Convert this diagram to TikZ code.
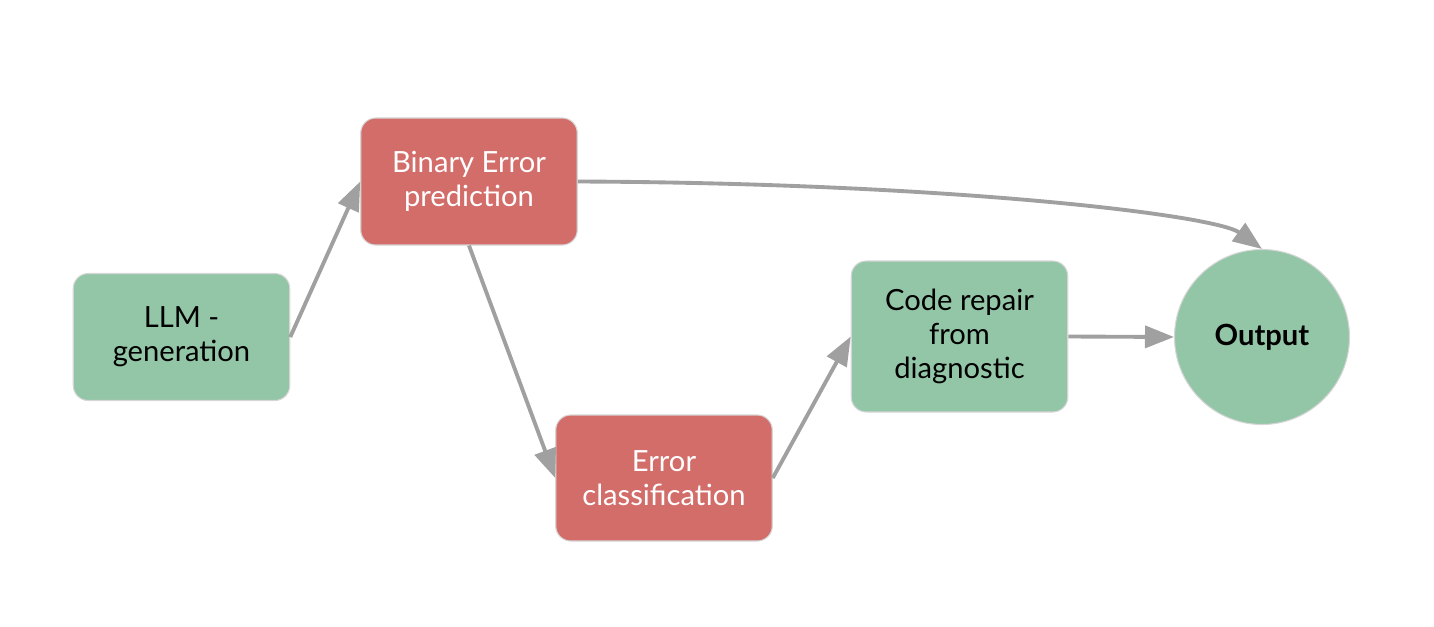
\documentclass[tikz,border=0pt]{standalone}
\usepackage{fontspec}
\setmainfont{Lato}
\usetikzlibrary{positioning, arrows.meta, calc}

\definecolor{stageGreen}{HTML}{93C6A7}
\definecolor{stageRed}{HTML}{D36D6A}
\definecolor{edgeGray}{HTML}{A0A0A0}
\definecolor{rimGray}{HTML}{D6D6D6}

\begin{document}
\begin{tikzpicture}[
  font=\fontsize{16.6}{19.2}\selectfont,
  >={Triangle[length=0.58cm, width=0.44cm]}
]
% -------------------- Styles --------------------
\tikzset{
  stage/.style={
    draw=rimGray, rounded corners=0.3cm, line width=0.6pt,
    align=center, inner sep=4pt,
    minimum width=4.33cm, minimum height=2.54cm
  },
  okStage/.style={
    stage, fill=stageGreen, text=black
  },
  errStage/.style={
    stage, fill=stageRed, text=white
  },
  sink/.style={
    circle, draw=rimGray, line width=0.6pt, fill=stageGreen,
    minimum size=3.5cm, inner sep=0pt, font=\fontsize{16.6}{19.2}\selectfont\bfseries
  },
  arrow/.style={->, draw=edgeGray, line width=2.2pt}
}

% frame of the picture
\useasboundingbox (0,0) rectangle (28.68,-12.52);

% -------------------- Stages --------------------
\node[okStage] (llm) at (3.63,-6.74) {LLM -\\generation};

\node[errStage] (binary) at ($(llm)+(5.75,3.11)$) {Binary Error\\prediction};

\node[errStage, minimum height=2.52cm] (errcls) at ($(binary)+(3.90,-5.93)$) {Error\\classification};

\node[okStage, minimum height=3.02cm] (repair) at ($(llm)+(15.56,0.01)$) {Code repair\\from\\diagnostic};

\node[sink] (out) at ($(llm)+(21.61,0)$) {Output};

% -------------------- Connectors --------------------
\draw[arrow] (llm.east) -- (binary.west);
\draw[arrow] (binary.south) -- (errcls.west);
\draw[arrow] (errcls.east) -- (repair.west);
\draw[arrow] (repair.east) -- (out.west);

% shortcut when no error is predicted
\draw[arrow] (binary.east) .. controls (19.0,-3.66) and (24.3,-4.3) .. (out.north);

\end{tikzpicture}
\end{document}
